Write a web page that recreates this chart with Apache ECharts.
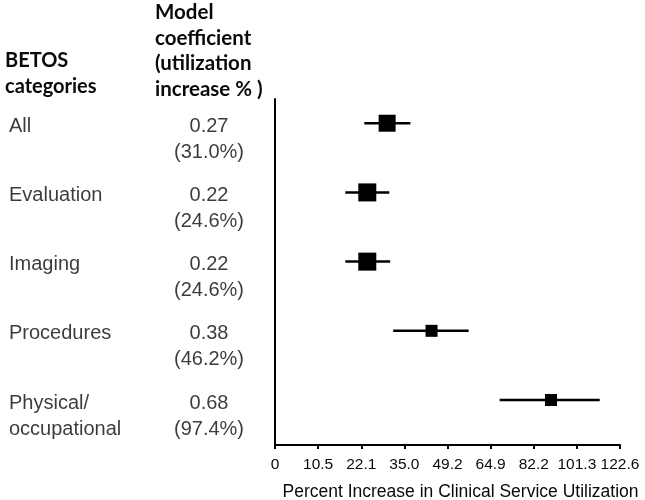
<!DOCTYPE html>
<html>
<head>
<meta charset="utf-8">
<script src="https://cdn.jsdelivr.net/npm/echarts@6/dist/echarts.min.js"></script>
<style>
  html, body { margin: 0; padding: 0; background: #fff; }
  #chart { width: 645px; height: 500px; }
</style>
</head>
<body>
<div id="chart"></div>
<script>
// rows, top to bottom
const categories = ['All', 'Evaluation', 'Imaging', 'Procedures', 'Physical/\noccupational']
const coefText = ['0.27', '0.22', '0.22', '0.38', '0.68']
const pctText = ['(31.0%)', '(24.6%)', '(24.6%)', '(46.2%)', '(97.4%)']
// model coefficient, drawn position and 95% interval
const estimate = [0.26, 0.214, 0.214, 0.363, 0.64]
const lower = [0.207, 0.163, 0.163, 0.274, 0.521]
const upper = [0.314, 0.265, 0.267, 0.449, 0.753]
// x axis tick labels (percent for coefficient 0, 0.1 ... 0.8)
const tickLabels = ['0', '10.5', '22.1', '35.0', '49.2', '64.9', '82.2', '101.3', '122.6']

const boxSize = [17, 18, 18, 12, 12]
const font = "'Liberation Sans', Arial, sans-serif"
const headFont = "Lato, 'Open Sans', sans-serif"

const chart = echarts.init(document.getElementById('chart'), null, { renderer: 'canvas' })

const rowsY = { type: 'value', min: -0.35, max: 4.65, inverse: true, show: false }

const renderCI = (params, api) => {
  const row = api.value(0)
  const c = api.coord([api.value(1), row])
  const lo = api.coord([api.value(2), row])
  const hi = api.coord([api.value(3), row])
  const s = boxSize[params.dataIndex]
  return {
    type: 'group',
    children: [
      {
        type: 'line',
        shape: { x1: lo[0], y1: lo[1], x2: hi[0], y2: hi[1] },
        style: { stroke: '#000', lineWidth: 2.5 },
      },
      {
        type: 'rect',
        shape: { x: c[0] - s / 2, y: c[1] - s / 2, width: s, height: s },
        style: { fill: '#000' },
      },
    ],
  }
}

const textLabel = (align, fmt) => ({
  show: true,
  position: 'inside',
  align: align,
  verticalAlign: 'top',
  offset: [0, -10],
  color: '#0a0a0a',
  textBorderWidth: 0,
  fontSize: 20,
  fontFamily: font,
  lineHeight: 26,
  formatter: fmt,
})

const option = {
  animation: false,
  grid: [
    { left: 275, right: 25, top: 99, bottom: 55, outerBoundsMode: 'none', containLabel: false },
    { left: 0, width: 270, top: 99, bottom: 55, outerBoundsMode: 'none', containLabel: false },
  ],
  xAxis: [
    {
      type: 'value',
      gridIndex: 0,
      position: 'bottom',
      min: 0,
      max: 0.8,
      interval: 0.1,
      splitLine: { show: false },
      axisLine: { show: true, onZero: false, lineStyle: { color: '#000', width: 2 } },
      axisTick: { show: true, length: 4, lineStyle: { color: '#000', width: 2 } },
      axisLabel: {
        color: '#0a0a0a',
        fontSize: 15.5,
        fontFamily: font,
        margin: 12,
        showMinLabel: true,
        showMaxLabel: true,
        hideOverlap: false,
        formatter: (v) => tickLabels[Math.round(v * 10)],
      },
      name: 'Percent Increase in Clinical Service Utilization',
      nameLocation: 'middle',
      nameGap: 38,
      nameTextStyle: { color: '#0a0a0a', fontSize: 17.5, fontFamily: font, padding: [0, 0, 0, 26] },
    },
    { type: 'value', gridIndex: 1, min: 0, max: 270, show: false },
  ],
  yAxis: [
    {
      ...rowsY,
      gridIndex: 0,
      show: true,
      axisLine: { show: true, onZero: false, lineStyle: { color: '#000', width: 2 } },
      axisTick: { show: false },
      axisLabel: { show: false },
      splitLine: { show: false },
    },
    { ...rowsY, gridIndex: 1 },
  ],
  graphic: [
    {
      type: 'text',
      left: 5,
      top: 48,
      style: {
        text: 'BETOS\ncategories',
        font: 'bold 20px ' + headFont,
        lineHeight: 25.5,
        fill: '#0a0a0a',
      },
    },
    {
      type: 'text',
      left: 155,
      top: 0,
      style: {
        text: 'Model\ncoefficient\n(utilization\nincrease % )',
        font: 'bold 20.5px ' + headFont,
        lineHeight: 25.5,
        fill: '#0a0a0a',
      },
    },
  ],
  series: [
    {
      type: 'custom',
      xAxisIndex: 0,
      yAxisIndex: 0,
      renderItem: renderCI,
      data: estimate.map((v, i) => [i, v, lower[i], upper[i]]),
    },
    {
      type: 'scatter',
      xAxisIndex: 1,
      yAxisIndex: 1,
      symbolSize: 1,
      itemStyle: { color: 'transparent' },
      label: textLabel('left', (p) => categories[p.dataIndex]),
      data: categories.map((c, i) => [9, i]),
    },
    {
      type: 'scatter',
      xAxisIndex: 1,
      yAxisIndex: 1,
      symbolSize: 1,
      itemStyle: { color: 'transparent' },
      label: textLabel('center', (p) => coefText[p.dataIndex] + '\n' + pctText[p.dataIndex]),
      data: coefText.map((c, i) => [209, i]),
    },
  ],
}

chart.setOption(option)
</script>
</body>
</html>
